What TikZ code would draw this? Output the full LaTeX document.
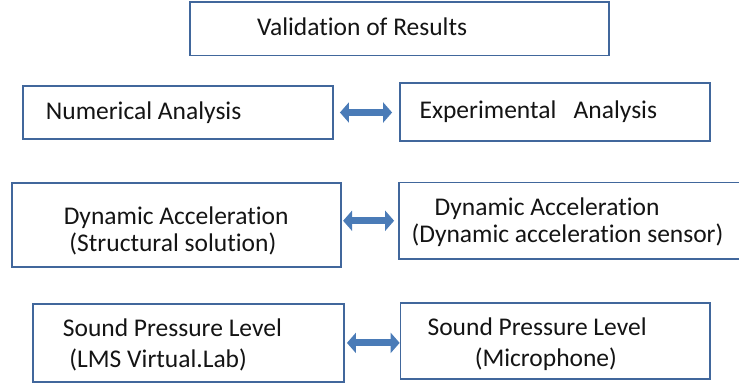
\documentclass[tikz,border=0pt]{standalone}
\usepackage{fontspec}
\setmainfont{Carlito}[Ligatures=NoCommon]
\usetikzlibrary{arrows.meta}
\definecolor{boxline}{HTML}{41679C}
\definecolor{arrowblue}{HTML}{4A7BB7}
\definecolor{txt}{HTML}{141414}

\begin{document}
\begin{tikzpicture}[x=1bp,y=-1bp,
  box/.style={draw=boxline,line width=1.8bp,inner sep=0pt,fill=white},
  line/.style={anchor=base west,inner sep=0pt,text=txt,font=\fontsize{25.5bp}{30bp}\selectfont},
  both/.style={draw=arrowblue,line width=7bp,
    {Triangle[length=9bp,width=20bp]}-{Triangle[length=9bp,width=20bp]}}]
\useasboundingbox (0,0) rectangle (739,385);

\node[box,minimum width=419bp,minimum height=53.5bp] (valid) at (399.5,28.75) {};
\node[box,minimum width=310.3bp,minimum height=53bp] (num) at (177.9,112.5) {};
\node[box,minimum width=310bp,minimum height=57.4bp] (exp) at (555,112) {};
\node[box,minimum width=329bp,minimum height=84bp] (dynl) at (176.2,225.3) {};
\node[box,minimum width=360bp,minimum height=76.5bp] (dynr) at (579,220.75) {};
\node[box,minimum width=310.7bp,minimum height=77.7bp] (spll) at (188.7,342.9) {};
\node[box,minimum width=309.5bp,minimum height=76.3bp] (splr) at (555.3,340.9) {};

\node[line] (validA) at (256.8,35) {Validation of Results};
\node[line] (numA) at (45.7,119) {Numerical Analysis};
\node[line] (expA) at (419.4,118.3) {Experimental\ \ \ Analysis};
\node[line] (dynlA) at (63.6,224) {Dynamic Acceleration};
\node[line] (dynlB) at (69.3,251.7) {(Structural solution)};
\node[line] (dynrA) at (434.5,215) {Dynamic Acceleration};
\node[line] (dynrB) at (411.4,242.7) {(Dynamic acceleration sensor)};
\node[line] (spllA) at (62.7,336.7) {Sound Pressure Level};
\node[line] (spllB) at (69.3,367) {(LMS Virtual.Lab)};
\node[line] (splrA) at (427.4,335.7) {Sound Pressure Level};
\node[line] (splrB) at (474.6,366.5) {(Microphone)};

\draw[both,shorten <=6bp,shorten >=7bp] (num.east) -- (num.east -| exp.west);
\draw[both,shorten <=1.5bp,shorten >=4bp] (dynl.east |- dynr.west) -- (dynr.west);
\draw[both,shorten <=2bp] (spll.east) -- (spll.east -| splr.west);
\end{tikzpicture}
\end{document}
